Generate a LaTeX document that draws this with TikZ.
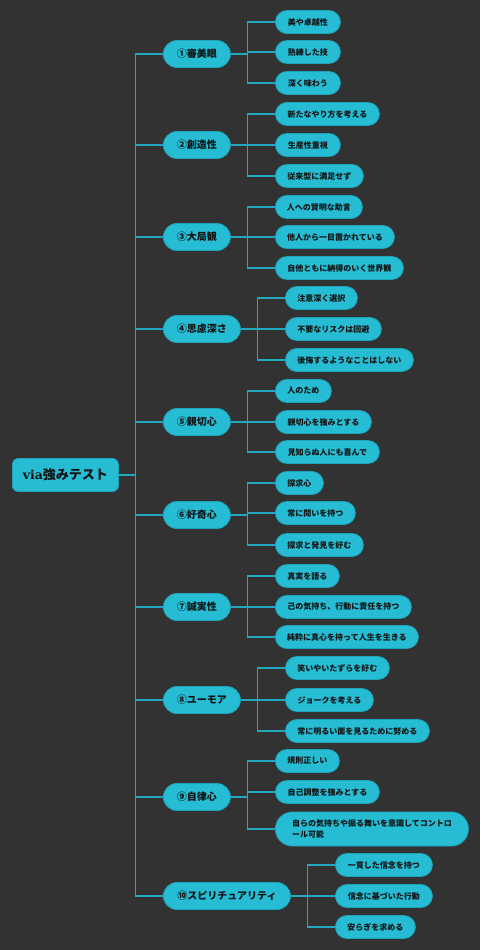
\documentclass[tikz,border=0pt]{standalone}
\usepackage{fontspec}
\newfontfamily\jp{Noto Sans CJK JP}
\newfontfamily\latserif{DejaVu Serif}
\definecolor{bgc}{HTML}{323232}
\definecolor{nodefill}{HTML}{25BCD4}
\definecolor{nodeedge}{HTML}{1FA3B8}
\definecolor{linec}{HTML}{22A9BE}
\definecolor{textc}{HTML}{141414}
\tikzset{
  base/.style={fill=nodefill, draw=nodeedge, line width=0.8pt, text=textc, inner sep=0pt, anchor=west},
  rootbox/.style={base, rounded corners=6pt, minimum height=33pt, font=\jp\bfseries\fontsize{13}{15}\selectfont},
  lone/.style={base, rounded corners=13.5pt, minimum height=27pt, font=\jp\bfseries\fontsize{10}{12}\selectfont},
  kid/.style={base, rounded corners=11.5pt, minimum height=23pt, font=\jp\bfseries\fontsize{8}{11}\selectfont},
  conn/.style={draw=linec, line width=1.2pt}
}
\newcommand\lonode[4]{\node[lone, minimum width=#3pt] (#1) at (163,#2) {#4};}
\newcommand\kidnode[5]{\node[kid, minimum width=#4pt] (#1) at (#2,#3) {#5};}
\newcommand\grp[4]{%
  \draw[conn] (#1.east) -- ++(17,0) coordinate (#1b);
  \draw[conn] (#1b) |- (#2.west);
  \draw[conn] (#1b) |- (#3.west);
  \draw[conn] (#1b) |- (#4.west);}
\begin{document}
\begin{tikzpicture}[x=1pt,y=-1pt]
\fill[bgc] (0,0) rectangle (480,950);
\useasboundingbox (0,0) rectangle (480,950);

\node[rootbox, minimum width=106pt] (root) at (12,475) {{\latserif\bfseries\fontsize{12.5}{15}\selectfont via}強みテスト};

\lonode{a1}{54}{67}{①審美眼}
\lonode{a2}{145}{67}{②創造性}
\lonode{a3}{237}{67}{③大局観}
\lonode{a4}{329}{77}{④思慮深さ}
\lonode{a5}{422}{67}{⑤親切心}
\lonode{a6}{515}{67}{⑥好奇心}
\lonode{a7}{607}{67}{⑦誠実性}
\lonode{a8}{700}{77}{⑧ユーモア}
\lonode{a9}{797}{67}{⑨自律心}
\lonode{a10}{896}{127}{⑩スピリチュアリティ}

\kidnode{c11}{275}{22}{65}{美や卓越性}
\kidnode{c12}{275}{52}{65}{熟練した技}
\kidnode{c13}{275}{83}{65}{深く味わう}

\kidnode{c21}{275}{114}{104}{新たなやり方を考える}
\kidnode{c22}{275}{145}{65}{生産性重視}
\kidnode{c23}{275}{176}{88}{従来型に満足せず}

\kidnode{c31}{275}{207}{87}{人への賢明な助言}
\kidnode{c32}{275}{237}{119}{他人から一目置かれている}
\kidnode{c33}{275}{268}{128}{自他ともに納得のいく世界観}

\kidnode{c41}{285}{298}{72}{注意深く選択}
\kidnode{c42}{285}{329}{96}{不要なリスクは回避}
\kidnode{c43}{285}{360}{128}{後悔するようなことはしない}

\kidnode{c51}{275}{391}{56}{人のため}
\kidnode{c52}{275}{422}{96}{親切心を強みとする}
\kidnode{c53}{275}{452}{104}{見知らぬ人にも喜んで}

\kidnode{c61}{275}{483}{48}{探求心}
\kidnode{c62}{275}{513}{80}{常に問いを持つ}
\kidnode{c63}{275}{545}{88}{探求と発見を好む}

\kidnode{c71}{275}{576}{64}{真実を語る}
\kidnode{c72}{275}{607}{136}{己の気持ち、行動に責任を持つ}
\kidnode{c73}{275}{637}{143}{純粋に真心を持って人生を生きる}

\kidnode{c81}{285}{668}{104}{笑いやいたずらを好む}
\kidnode{c82}{285}{700}{88}{ジョークを考える}
\kidnode{c83}{285}{731}{144}{常に明るい面を見るために努める}

\kidnode{c91}{275}{761}{64}{規則正しい}
\kidnode{c92}{275}{792}{104}{自己調整を強みとする}
\node[kid, minimum width=193pt, minimum height=34pt, rounded corners=17pt, align=left] (c93) at (275,829)
  {自らの気持ちや振る舞いを意識してコントロ\\ール可能};

\kidnode{c101}{335}{865}{97}{一貫した信念を持つ}
\kidnode{c102}{335}{896}{97}{信念に基づいた行動}
\kidnode{c103}{335}{927}{80}{安らぎを求める}

\draw[conn] (root.east) -- ++(17,0) coordinate (trunk);
\foreach \i in {1,...,10}{\draw[conn] (trunk) |- (a\i.west);}

\grp{a1}{c11}{c12}{c13}
\grp{a2}{c21}{c22}{c23}
\grp{a3}{c31}{c32}{c33}
\grp{a4}{c41}{c42}{c43}
\grp{a5}{c51}{c52}{c53}
\grp{a6}{c61}{c62}{c63}
\grp{a7}{c71}{c72}{c73}
\grp{a8}{c81}{c82}{c83}
\grp{a9}{c91}{c92}{c93}
\grp{a10}{c101}{c102}{c103}
\end{tikzpicture}
\end{document}
